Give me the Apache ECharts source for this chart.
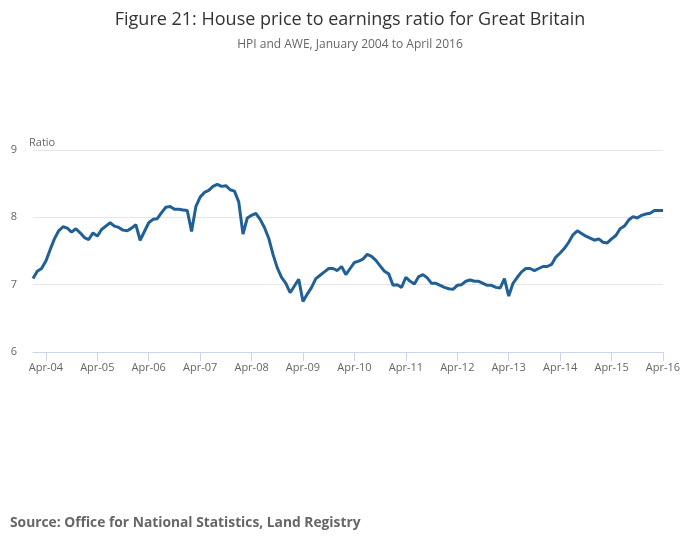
<!DOCTYPE html>
<html><head><meta charset="utf-8">
<script src="https://cdn.jsdelivr.net/npm/echarts@6/dist/echarts.min.js"></script>
<style>html,body{margin:0;padding:0;background:#fff}#c{width:700px;height:549px}</style>
</head><body><div id="c"></div>
<script>
const monthNames = ["Jan","Feb","Mar","Apr","May","Jun","Jul","Aug","Sep","Oct","Nov","Dec"];
const years = ["04","05","06","07","08","09","10","11","12","13","14","15","16"];
const ratio2004 = [7.09,7.20,7.24,7.35,7.52,7.68,7.80,7.86,7.84,7.78,7.83,7.77];
const ratio2005 = [7.70,7.67,7.77,7.72,7.82,7.87,7.92,7.87,7.85,7.81,7.80,7.84];
const ratio2006 = [7.89,7.66,7.79,7.92,7.97,7.98,8.07,8.15,8.16,8.12,8.12,8.11];
const ratio2007 = [8.10,7.79,8.16,8.30,8.37,8.40,8.46,8.49,8.46,8.47,8.41,8.39];
const ratio2008 = [8.23,7.75,7.99,8.03,8.06,7.97,7.85,7.69,7.45,7.25,7.11,7.02];
const ratio2009 = [6.88,6.98,7.08,6.75,6.86,6.96,7.09,7.14,7.19,7.24,7.24,7.21];
const ratio2010 = [7.27,7.15,7.24,7.33,7.35,7.38,7.45,7.42,7.36,7.28,7.20,7.16];
const ratio2011 = [6.99,7.00,6.96,7.11,7.05,7.01,7.12,7.15,7.10,7.02,7.02,6.99];
const ratio2012 = [6.96,6.94,6.93,6.99,7.00,7.05,7.07,7.05,7.05,7.02,6.99,6.99];
const ratio2013 = [6.96,6.95,7.09,6.83,7.02,7.11,7.19,7.24,7.24,7.21,7.24,7.27];
const ratio2014 = [7.27,7.30,7.41,7.47,7.54,7.63,7.74,7.80,7.76,7.72,7.69,7.66];
const ratio2015 = [7.68,7.63,7.62,7.68,7.73,7.83,7.87,7.96,8.01,7.99,8.03,8.05];
const ratio2016 = [8.06,8.10,8.10,8.10];
const yTicks = [6,7,8,9];

const values = [].concat(ratio2004,ratio2005,ratio2006,ratio2007,ratio2008,ratio2009,ratio2010,ratio2011,ratio2012,ratio2013,ratio2014,ratio2015,ratio2016);
const categories = [];
for (const y of years) for (const m of monthNames) {
  if (categories.length < values.length) categories.push(m + "-" + y);
}
const showIdx = (i) => i % 12 === 3;

const chart = echarts.init(document.getElementById('c'), null, {renderer:'canvas'});
chart.setOption({
  animation:false,
  textStyle:{fontFamily:'Open Sans'},
  title:[{
    text:'Figure 21: House price to earnings ratio for Great Britain',
    left:'center', top:6,
    textStyle:{fontFamily:'Open Sans',fontSize:18,fontWeight:'normal',color:'#333'},
    subtext:'HPI and AWE, January 2004 to April 2016',
    subtextStyle:{fontFamily:'Open Sans',fontSize:12,color:'#666'},
    itemGap:10
  },{
    text:'Source: Office for National Statistics, Land Registry',
    left:5, top:511,
    textStyle:{fontFamily:'Open Sans',fontSize:13.8,fontWeight:'bold',color:'#666'}
  }],
  grid:{left:33,right:37,top:150,bottom:197,containLabel:false},
  xAxis:{
    type:'category', data:categories, boundaryGap:false,
    axisLine:{lineStyle:{color:'#ccd6eb',width:1}},
    axisTick:{interval:(i)=>showIdx(i),length:9,lineStyle:{color:'#ccd6eb'}},
    axisLabel:{interval:(i)=>showIdx(i),color:'#666',fontSize:11,margin:10,fontFamily:'Open Sans'},
    splitLine:{show:false}
  },
  yAxis:{
    type:'value', min:yTicks[0], max:yTicks[yTicks.length-1], interval:1,
    name:'Ratio', nameLocation:'end', nameGap:2,
    nameTextStyle:{align:'left',color:'#666',fontSize:11,padding:[0,0,0,-4],fontFamily:'Open Sans'},
    axisLine:{show:false}, axisTick:{show:false},
    axisLabel:{color:'#666',fontSize:11,margin:16,fontFamily:'Open Sans'},
    splitLine:{lineStyle:{color:'#e6e6e6',width:1}}
  },
  series:[{
    type:'line', data:values, showSymbol:false, symbol:'none',
    lineStyle:{color:'#206095',width:3}, itemStyle:{color:'#206095'}
  }]
});
</script></body></html>
